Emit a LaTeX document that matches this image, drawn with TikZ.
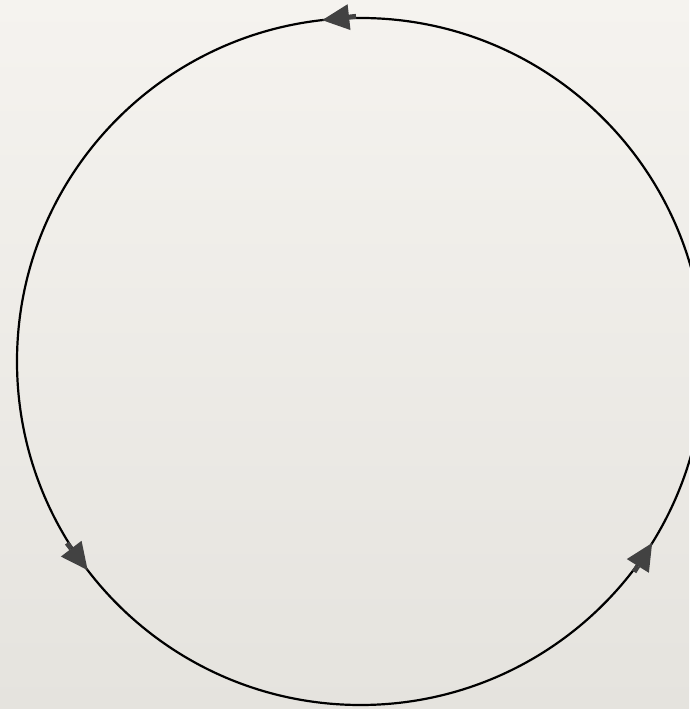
\documentclass[tikz,border=0pt]{standalone}
\usetikzlibrary{calc}
\definecolor{paper}{HTML}{F5F3EF}
\definecolor{paperdark}{HTML}{E5E3DE}
\definecolor{tipgray}{HTML}{424242}
\begin{document}
\begin{tikzpicture}[
    x=1pt, y=1pt,
    ring/.style={draw=black, line width=2.2pt},
    flowtip/.style={fill=tipgray, draw=none}
]
% background and frame
\shade[top color=paper, bottom color=paperdark] (0,0) rectangle (689,709);
\useasboundingbox (0,0) rectangle (689,709);
\coordinate (centre) at (360.5,347.5);
\draw[ring] (centre) circle[radius=343.5];
% arrow heads, counter-clockwise
\foreach \ang in {96.4, 217.4, 328.1} {
    \begin{scope}[shift={($(centre)+(\ang:343.5)$)}, rotate=\ang+90]
        \fill[flowtip] (0,0) -- (-27,13) -- (-27,-13) -- cycle;
        \fill[flowtip] (-27,-2.5) rectangle (-34,2.5);
    \end{scope}
}
\end{tikzpicture}
\end{document}
